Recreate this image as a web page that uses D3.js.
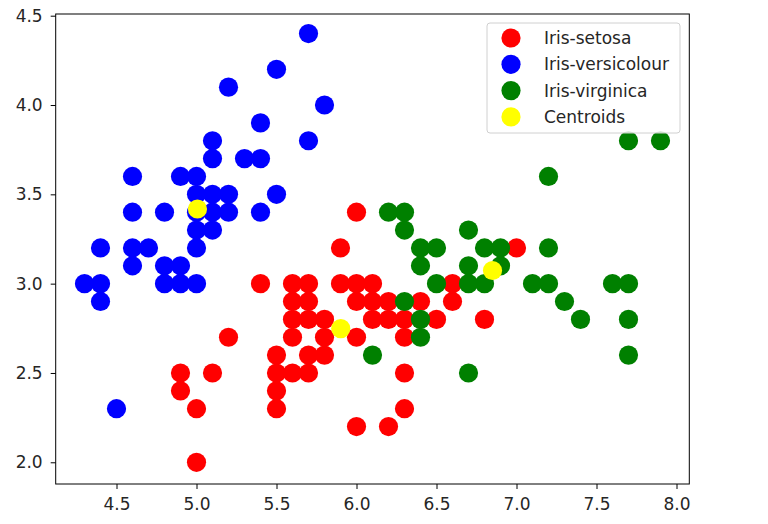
<!DOCTYPE html>
<html>
<head>
<meta charset="utf-8">
<script src="https://cdn.jsdelivr.net/npm/d3@7"></script>
<style>
  html, body { margin: 0; padding: 0; background: #ffffff; }
  svg { display: block; }
  text { font-family: "DejaVu Sans", sans-serif; }
</style>
</head>
<body>
<div id="chart"></div>
<script>
// ---- data (sepal length, sepal width) by cluster ----
const seriesNames = ["Iris-setosa", "Iris-versicolour", "Iris-virginica", "Centroids"];
const seriesColors = ["#ff0000", "#0000ff", "#008000", "#ffff00"];

const setosaPoints = [ // red cluster
  [5.4,3.0],[5.6,3.0],[5.7,3.0],[5.9,3.0],[6.0,3.0],[6.1,3.0],[6.6,3.0],
  [5.6,2.9],[5.7,2.9],[6.0,2.9],[6.1,2.9],[6.2,2.9],[6.4,2.9],[6.6,2.9],
  [5.6,2.8],[5.7,2.8],[5.8,2.8],[6.1,2.8],[6.2,2.8],[6.3,2.8],[6.5,2.8],[6.8,2.8],
  [5.2,2.7],[5.6,2.7],[5.8,2.7],[6.0,2.7],[6.3,2.7],
  [5.5,2.6],[5.7,2.6],[5.8,2.6],
  [4.9,2.5],[5.1,2.5],[5.5,2.5],[5.6,2.5],[5.7,2.5],[6.3,2.5],
  [4.9,2.4],[5.5,2.4],
  [5.0,2.3],[5.5,2.3],[6.3,2.3],
  [6.0,2.2],[6.2,2.2],
  [5.0,2.0],
  [5.9,3.2],[7.0,3.2],[6.0,3.4]
];

const versicolourPoints = [ // blue cluster
  [5.1,3.5],[4.9,3.0],[4.7,3.2],[4.6,3.1],[5.0,3.6],[5.4,3.9],[4.6,3.4],[5.0,3.4],
  [4.4,2.9],[4.9,3.1],[5.4,3.7],[4.8,3.4],[4.8,3.0],[4.3,3.0],[5.8,4.0],[5.7,4.4],
  [5.7,3.8],[5.1,3.8],[5.1,3.7],[4.6,3.6],[5.1,3.3],[5.0,3.0],[5.2,3.5],[5.2,3.4],
  [5.4,3.4],[5.2,4.1],[5.5,4.2],[5.0,3.2],[5.5,3.5],[4.4,3.0],[5.1,3.4],[5.0,3.5],
  [4.5,2.3],[4.4,3.2],[4.6,3.2],[5.3,3.7],[5.0,3.3],[4.9,3.6],[4.8,3.1]
];

const virginicaPoints = [ // green cluster
  [6.2,3.4],[6.3,3.4],[6.3,3.3],[6.7,3.3],
  [6.4,3.2],[6.5,3.2],[6.8,3.2],[6.9,3.2],[7.2,3.2],
  [6.4,3.1],[6.7,3.1],[6.9,3.1],
  [6.5,3.0],[6.7,3.0],[6.8,3.0],[7.1,3.0],[7.2,3.0],[7.6,3.0],[7.7,3.0],
  [6.3,2.9],[7.3,2.9],
  [6.4,2.8],[7.4,2.8],[7.7,2.8],
  [6.4,2.7],
  [6.1,2.6],[7.7,2.6],
  [6.7,2.5],
  [7.2,3.6],[7.7,3.8],[7.9,3.8]
];

const centroidPoints = [
  [5.006,3.418],[5.9016,2.7484],[6.85,3.0737]
];

const xTicks = [4.5,5.0,5.5,6.0,6.5,7.0,7.5,8.0];
const yTicks = [2.0,2.5,3.0,3.5,4.0,4.5];

// ---- layout ----
const W = 768, H = 524;
const plotLeft = 55.7, plotRight = 689.3, plotTop = 14, plotBottom = 484;
const R = 9.6;
const FONT = 17;

const svg = d3.select("#chart").append("svg")
  .attr("width", W).attr("height", H);

const x = d3.scaleLinear().domain([4.12, 8.08]).range([plotLeft, plotRight]);
const y = d3.scaleLinear().domain([1.8785, 4.5095]).range([plotBottom, plotTop]);

const groups = [setosaPoints, versicolourPoints, virginicaPoints, centroidPoints];
groups.forEach((pts, i) => {
  svg.append("g").selectAll("circle").data(pts).join("circle")
    .attr("cx", d => x(d[0]))
    .attr("cy", d => y(d[1]))
    .attr("r", R)
    .attr("fill", seriesColors[i]);
});

// axes
const fmt = d3.format(".1f");
const xAxis = svg.append("g").attr("transform", `translate(0,${plotBottom})`)
  .call(d3.axisBottom(x).tickValues(xTicks).tickFormat(fmt).tickSize(5).tickPadding(9));
const yAxis = svg.append("g").attr("transform", `translate(${plotLeft},0)`)
  .call(d3.axisLeft(y).tickValues(yTicks).tickFormat(fmt).tickSize(5).tickPadding(8));
[xAxis, yAxis].forEach(a => {
  a.select(".domain").remove();
  a.selectAll("line").attr("stroke", "#000").attr("stroke-width", 1);
  a.selectAll("text").attr("fill", "#262626").attr("font-size", FONT)
    .attr("font-family", "'DejaVu Sans', sans-serif");
});

// frame
svg.append("rect")
  .attr("x", plotLeft).attr("y", plotTop)
  .attr("width", plotRight - plotLeft).attr("height", plotBottom - plotTop)
  .attr("fill", "none").attr("stroke", "#000").attr("stroke-width", 1);

// legend
const lg = svg.append("g");
lg.append("rect")
  .attr("x", 487).attr("y", 23).attr("width", 193).attr("height", 110)
  .attr("rx", 3).attr("fill", "#fff").attr("fill-opacity", 0.8)
  .attr("stroke", "#d0d0d0").attr("stroke-width", 1);
const rowY = [38, 64.3, 90.6, 116.9];
seriesNames.forEach((name, i) => {
  lg.append("circle").attr("cx", 511).attr("cy", rowY[i]).attr("r", R)
    .attr("fill", seriesColors[i]);
  lg.append("text").attr("x", 544).attr("y", rowY[i]).attr("dy", "0.35em")
    .attr("font-size", FONT).attr("fill", "#262626").text(name);
});
</script>
</body>
</html>
